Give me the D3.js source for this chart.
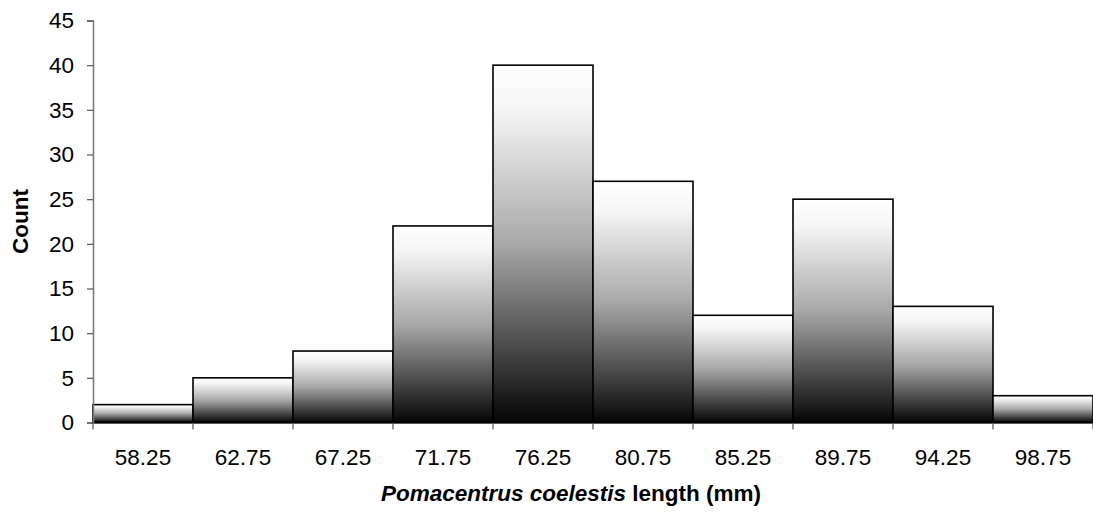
<!DOCTYPE html>
<html>
<head>
<meta charset="utf-8">
<script src="https://cdn.jsdelivr.net/npm/d3@7"></script>
<style>
  html, body { margin: 0; padding: 0; background: #fff; }
  svg { display: block; font-family: "Liberation Sans", Arial, sans-serif; }
</style>
</head>
<body>
<svg id="chart" width="1093" height="517"></svg>
<script>
// Length-class midpoints (mm) and fish counts per class
const bins = ["58.25", "62.75", "67.25", "71.75", "76.25", "80.75", "85.25", "89.75", "94.25", "98.75"];
const counts = [2, 5, 8, 22, 40, 27, 12, 25, 13, 3];
const yTicks = [0, 5, 10, 15, 20, 25, 30, 35, 40, 45];

const svg = d3.select("#chart");
const margin = { left: 93, right: 0, top: 20.5, bottom: 94.5 };
const W = 1093, H = 517;
const FS = 22.5;

const x = d3.scaleBand().domain(bins).range([margin.left, W - margin.right]).padding(0);
const y = d3.scaleLinear().domain([0, 45]).range([H - margin.bottom, margin.top]);

// Vertical white-to-black fill, stretched over each bar
const defs = svg.append("defs");
const grad = defs.append("linearGradient")
  .attr("id", "barFill")
  .attr("x1", 0).attr("y1", 0).attr("x2", 0).attr("y2", 1);
grad.append("stop").attr("offset", "0%").attr("stop-color", "#ffffff");
grad.append("stop").attr("offset", "12%").attr("stop-color", "#f6f6f6");
grad.append("stop").attr("offset", "50%").attr("stop-color", "#a8a8a8");
grad.append("stop").attr("offset", "100%").attr("stop-color", "#050505");

// Bars
svg.append("g").selectAll("rect")
  .data(bins)
  .join("rect")
  .attr("x", d => x(d))
  .attr("y", (d, i) => y(counts[i]))
  .attr("width", x.bandwidth())
  .attr("height", (d, i) => y(0) - y(counts[i]))
  .attr("fill", "url(#barFill)")
  .attr("stroke", "#000")
  .attr("stroke-width", 1.6);

// Baseline
svg.append("line")
  .attr("x1", margin.left).attr("x2", W)
  .attr("y1", y(0)).attr("y2", y(0))
  .attr("stroke", "#000").attr("stroke-width", 2);

// Y axis
const yAxis = svg.append("g")
  .attr("transform", `translate(${margin.left},0)`)
  .call(d3.axisLeft(y).tickValues(yTicks).tickSize(6).tickPadding(13).tickFormat(d3.format("d")));
yAxis.select(".domain").attr("stroke", "#777").attr("stroke-width", 1.5);
yAxis.selectAll(".tick line").attr("stroke", "#555").attr("stroke-width", 1.2);
yAxis.selectAll(".tick text")
  .attr("font-size", FS).attr("fill", "#000")
  .attr("font-family", "Liberation Sans, Arial, sans-serif");

// X tick marks at bin edges
const edges = bins.map(b => x(b)).concat([x(bins[bins.length - 1]) + x.bandwidth()]);
svg.append("g").selectAll("line")
  .data(edges)
  .join("line")
  .attr("x1", d => d).attr("x2", d => d)
  .attr("y1", y(0)).attr("y2", y(0) + 7)
  .attr("stroke", "#555").attr("stroke-width", 1.2);

// X category labels
svg.append("g").selectAll("text")
  .data(bins)
  .join("text")
  .attr("x", d => x(d) + x.bandwidth() / 2)
  .attr("y", 465)
  .attr("text-anchor", "middle")
  .attr("font-size", FS)
  .attr("fill", "#000")
  .text(d => d);

// Axis titles
svg.append("text")
  .attr("transform", `translate(28,${(y(0) + y(45)) / 2}) rotate(-90)`)
  .attr("text-anchor", "middle")
  .attr("font-size", FS).attr("font-weight", "bold")
  .text("Count");

const xt = svg.append("text")
  .attr("x", 571).attr("y", 501)
  .attr("text-anchor", "middle")
  .attr("font-size", FS).attr("font-weight", "bold");
xt.append("tspan").attr("font-style", "italic").text("Pomacentrus coelestis");
xt.append("tspan").text(" length (mm)");
</script>
</body>
</html>
